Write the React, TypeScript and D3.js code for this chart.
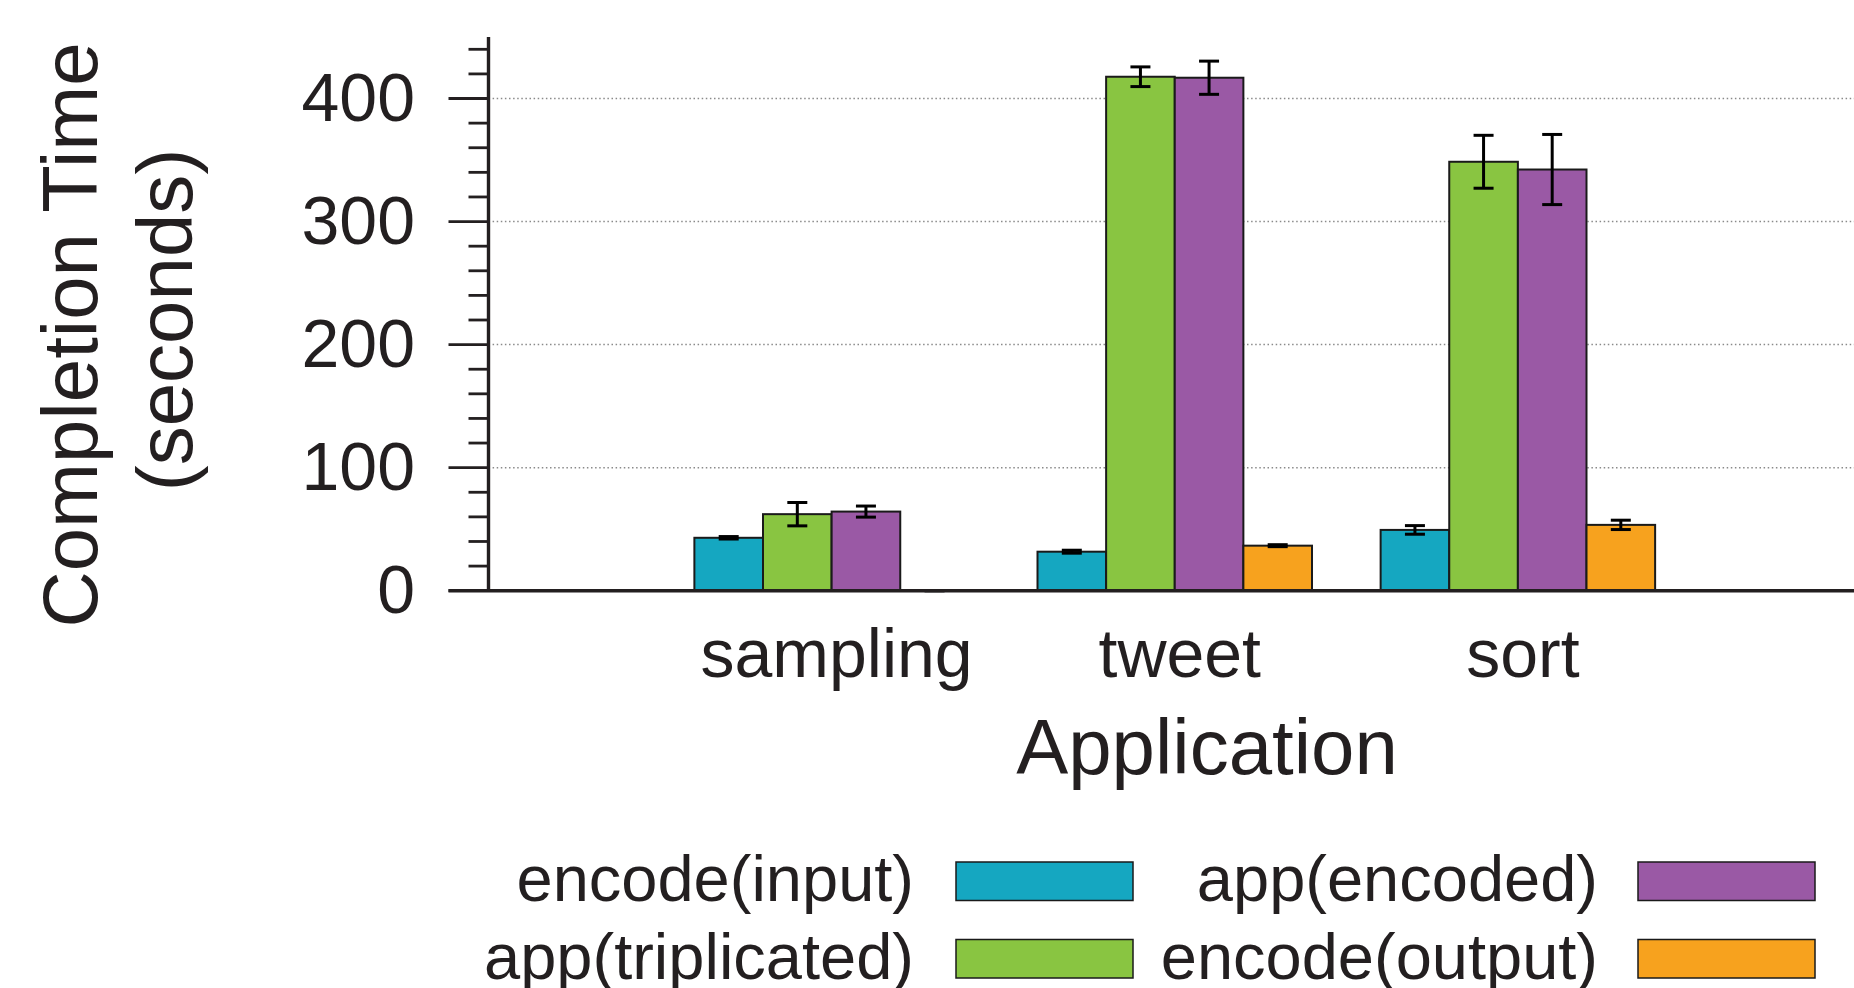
// App.tsx
import React, { useEffect, useRef } from 'react';
import * as d3 from 'd3';

const categories = ['sampling', 'tweet', 'sort'];
const seriesNames = ['encode(input)', 'app(triplicated)', 'app(encoded)', 'encode(output)'];
const seriesColors = ['#15a7c1', '#89c541', '#9a59a5', '#f7a21e'];

// completion times (seconds), one array per series, in category order
const encodeInput = [43.0, 31.7, 49.4];
const appTriplicated = [62.2, 417.7, 348.6];
const appEncoded = [64.3, 416.9, 342.3];
const encodeOutput = [0, 36.6, 53.5];

// half-width of the error bars
const encodeInputErr = [1.0, 1.2, 3.5];
const appTriplicatedErr = [9.5, 8.0, 21.5];
const appEncodedErr = [4.5, 13.5, 28.5];
const encodeOutputErr = [0, 0.8, 3.8];

const yTicks = [0, 100, 200, 300, 400];

const W = 1854;
const H = 988;
const FONT = '"Liberation Sans", Arial, Helvetica, sans-serif';
const INK = '#231f20';

export default function App() {
    const ref = useRef<SVGSVGElement>(null);

    useEffect(() => {
        drawChart();
        // eslint-disable-next-line
    }, []);

    function drawChart() {
        const svg = d3.select(ref.current);
        svg.selectAll('*').remove();

        const values = [encodeInput, appTriplicated, appEncoded, encodeOutput];
        const errs = [encodeInputErr, appTriplicatedErr, appEncodedErr, encodeOutputErr];

        const left = 488.5;
        const top = 37;
        const bottom = 590.7;

        // gnuplot style: categories at 0,1,2 on a -1..3 range
        const x = d3.scaleLinear().domain([-1, 3]).range([left, 1861]);
        const y = d3.scaleLinear().domain([0, 450]).range([bottom, top]);
        const bw = (x(1) - x(0)) / 5;

        // dotted grid
        svg.append('g')
            .selectAll('line')
            .data(yTicks.filter((t) => t > 0))
            .enter()
            .append('line')
            .attr('x1', left)
            .attr('x2', W)
            .attr('y1', (d) => y(d))
            .attr('y2', (d) => y(d))
            .attr('stroke', '#8a8a8a')
            .attr('stroke-width', 1.5)
            .attr('stroke-dasharray', '1.5,2.6');

        // bars
        values.forEach((vals, s) => {
            const g = svg.append('g');
            g.selectAll('rect')
                .data(vals)
                .enter()
                .append('rect')
                .attr('x', (d, i) => x(i) - 2 * bw + s * bw)
                .attr('y', (d) => y(d))
                .attr('width', bw)
                .attr('height', (d) => bottom - y(d))
                .attr('fill', seriesColors[s])
                .attr('stroke', '#1a1a1a')
                .attr('stroke-width', 2);
        });

        // error bars
        values.forEach((vals, s) => {
            const g = svg.append('g').attr('stroke', '#000').attr('stroke-width', 3);
            vals.forEach((v, i) => {
                const cx = x(i) - 2 * bw + s * bw + bw / 2;
                const lo = y(v - errs[s][i]);
                const hi = y(v + errs[s][i]);
                g.append('line').attr('x1', cx).attr('x2', cx).attr('y1', lo).attr('y2', hi);
                g.append('line').attr('x1', cx - 10).attr('x2', cx + 10).attr('y1', lo).attr('y2', lo);
                g.append('line').attr('x1', cx - 10).attr('x2', cx + 10).attr('y1', hi).attr('y2', hi);
            });
        });

        // y axis with minor ticks
        const ax = svg.append('g').attr('stroke', INK);
        ax.selectAll('.minor')
            .data(d3.range(20, 450, 20).filter((t) => t % 100 !== 0))
            .enter()
            .append('line')
            .attr('x1', left - 20)
            .attr('x2', left)
            .attr('y1', (d) => y(d))
            .attr('y2', (d) => y(d))
            .attr('stroke-width', 2.8);
        ax.selectAll('.major')
            .data(yTicks)
            .enter()
            .append('line')
            .attr('x1', left - 40)
            .attr('x2', left)
            .attr('y1', (d) => y(d))
            .attr('y2', (d) => y(d))
            .attr('stroke-width', 2.8);
        ax.append('line').attr('x1', left).attr('x2', left).attr('y1', top).attr('y2', bottom).attr('stroke-width', 3.4);
        ax.append('line').attr('x1', left - 40).attr('x2', W).attr('y1', bottom).attr('y2', bottom).attr('stroke-width', 3.4);

        svg.append('g')
            .selectAll('text')
            .data(yTicks)
            .enter()
            .append('text')
            .attr('x', 415)
            .attr('y', (d) => y(d))
            .attr('dy', '0.33em')
            .attr('text-anchor', 'end')
            .attr('font-size', 68)
            .text((d) => d);

        // category labels
        svg.append('g')
            .selectAll('text')
            .data(categories)
            .enter()
            .append('text')
            .attr('x', (d, i) => x(i) + 5)
            .attr('y', 677)
            .attr('text-anchor', 'middle')
            .attr('font-size', 68)
            .text((d) => d);

        // axis titles
        svg.append('text')
            .attr('x', 1207)
            .attr('y', 774)
            .attr('text-anchor', 'middle')
            .attr('font-size', 78)
            .text('Application');

        const yt = svg.append('g').attr('font-size', 78).attr('text-anchor', 'middle');
        yt.append('text').attr('transform', 'translate(97,335) rotate(-90)').text('Completion Time');
        yt.append('text').attr('transform', 'translate(192,320) rotate(-90)').text('(seconds)');

        // legend: two columns, text right-aligned before the swatch
        const colText = [914, 1598];
        const colBox = [956, 1638];
        const rowTop = [862, 939.5];
        seriesNames.forEach((name, s) => {
            const c = Math.floor(s / 2);
            const r = s % 2;
            svg.append('text')
                .attr('x', colText[c])
                .attr('y', rowTop[r] + 39)
                .attr('text-anchor', 'end')
                .attr('font-size', 65)
                .text(name);
            svg.append('rect')
                .attr('x', colBox[c])
                .attr('y', rowTop[r])
                .attr('width', 177)
                .attr('height', 38.5)
                .attr('fill', seriesColors[s])
                .attr('stroke', '#1a1a1a')
                .attr('stroke-width', 1.5);
        });

        svg.selectAll('text').attr('fill', INK).attr('font-family', FONT);
    }

    return (
        <svg
            ref={ref}
            width={W}
            height={H}
            style={{ position: 'absolute', left: 0, top: 0, background: '#fff' }}
        />
    );
}
